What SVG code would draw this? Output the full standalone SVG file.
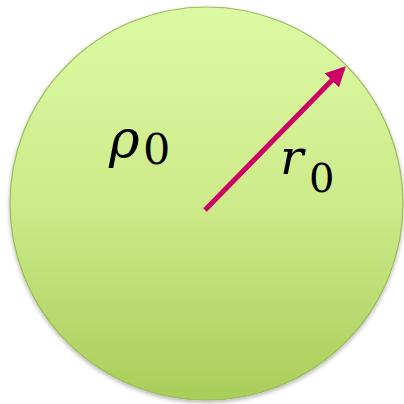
<svg xmlns="http://www.w3.org/2000/svg" width="404" height="404" viewBox="0 0 404 404">
<defs>
<linearGradient id="g" x1="0" y1="0" x2="0" y2="1">
<stop offset="0" stop-color="#dcfaa2"/>
<stop offset="0.5" stop-color="#cdeb8a"/>
<stop offset="1" stop-color="#a9cd5a"/>
</linearGradient>
<filter id="sh" x="-10%" y="-10%" width="120%" height="120%">
<feGaussianBlur in="SourceAlpha" stdDeviation="2"/>
<feOffset dx="0" dy="2"/>
<feComponentTransfer><feFuncA type="linear" slope="0.3"/></feComponentTransfer>
<feMerge><feMergeNode/><feMergeNode in="SourceGraphic"/></feMerge>
</filter>
<marker id="ah" markerWidth="4" markerHeight="4" refX="3.2" refY="2" orient="auto" markerUnits="strokeWidth">
<path d="M0,0 L4,2 L0,4 Z" fill="#cc0066"/>
</marker>
<style>
.m{font-family:"DejaVu Serif",serif;fill:#000}
</style>
</defs>
<g id="sphere">
<circle cx="206.5" cy="203.5" r="196.5" fill="url(#g)" stroke="#9bbb59" stroke-width="1.2" filter="url(#sh)"/>
<text class="m" x="109" y="157" font-size="52"><tspan font-style="italic">ρ</tspan><tspan x="143" y="164" font-size="43">0</tspan></text>
<text class="m" x="280" y="174" font-size="49"><tspan font-style="italic">r</tspan><tspan x="309" y="192" font-size="40">0</tspan></text>
</g>
<g id="connectors">
<line x1="205" y1="210" x2="343" y2="69" stroke="#cc0066" stroke-width="5" marker-end="url(#ah)"/>
</g>
</svg>
